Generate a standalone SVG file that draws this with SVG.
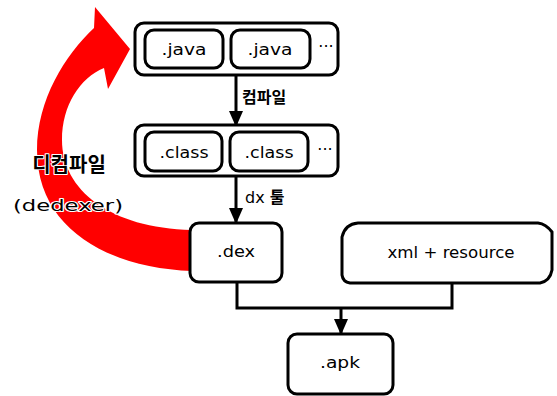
<svg xmlns="http://www.w3.org/2000/svg" width="557" height="396" viewBox="0 0 557 396">
<style>
.box{fill:#fff;stroke:#000;stroke-width:3}
.ln{fill:none;stroke:#000;stroke-width:3}
.t{font-family:"DejaVu Sans","Liberation Sans",sans-serif;font-size:16px;fill:#000}
.k{font-family:"Noto Sans CJK KR",sans-serif;font-weight:bold;fill:#000}
.halo{stroke:#fff;stroke-width:2;paint-order:stroke;stroke-linejoin:round}
</style>
<defs>
<marker id="ah" viewBox="0 0 16 14" refX="15" refY="7" markerWidth="16" markerHeight="14" markerUnits="userSpaceOnUse" orient="auto">
<path d="M0,0 L16,7 L0,14 Z" fill="#000"/>
</marker>
</defs>
<g id="decompile-arrow">
<path d="M 192 271 C 110 268, 37 230, 37 150 C 37 100, 65 55, 94 28 L 95 7 L 130 49 L 108 89 L 104 68 C 80 78, 62 105, 62 140 C 62 190, 110 228, 192 230 Z" fill="#ff0000"/>
<text class="k halo" x="69" y="172" font-size="20" text-anchor="middle">디컴파일</text>
<text class="t halo" x="68" y="211" font-size="22" text-anchor="middle" textLength="110" lengthAdjust="spacingAndGlyphs">(dedexer)</text>
</g>
<g id="connectors">
<line class="ln" x1="236" y1="75" x2="236" y2="126" marker-end="url(#ah)"/>
<line class="ln" x1="236" y1="177" x2="236" y2="223" marker-end="url(#ah)"/>
<polyline class="ln" points="237,282 237,308 452,308 452,282"/>
<line class="ln" x1="341" y1="308" x2="341" y2="334" marker-end="url(#ah)"/>
<text class="k" x="242" y="103" font-size="16">컴파일</text>
<text class="t" x="245" y="203" font-size="17">dx <tspan class="k" font-size="16">툴</tspan></text>
</g>
<g id="java-group">
<rect class="box" x="135" y="23" width="203" height="52" rx="9"/>
<g id="java1"><rect class="box" x="145" y="30" width="78" height="38" rx="9"/><text class="t" x="184" y="55" text-anchor="middle" textLength="45" lengthAdjust="spacingAndGlyphs">.java</text></g>
<g id="java2"><rect class="box" x="231" y="30" width="79" height="38" rx="9"/><text class="t" x="270" y="55" text-anchor="middle" textLength="45" lengthAdjust="spacingAndGlyphs">.java</text></g>
<text class="t" x="326" y="52" text-anchor="middle" font-size="14">···</text>
</g>
<g id="class-group">
<rect class="box" x="135" y="125" width="203" height="51" rx="9"/>
<g id="class1"><rect class="box" x="145" y="132" width="77" height="39" rx="9"/><text class="t" x="184" y="158" text-anchor="middle" textLength="49" lengthAdjust="spacingAndGlyphs">.class</text></g>
<g id="class2"><rect class="box" x="230" y="132" width="78" height="39" rx="9"/><text class="t" x="269" y="158" text-anchor="middle" textLength="49" lengthAdjust="spacingAndGlyphs">.class</text></g>
<text class="t" x="325" y="155" text-anchor="middle" font-size="14">···</text>
</g>
<g id="dex">
<rect class="box" x="190" y="223" width="92" height="59" rx="9"/>
<text class="t" x="236" y="257" text-anchor="middle" textLength="38" lengthAdjust="spacingAndGlyphs">.dex</text>
</g>
<g id="xml-resource">
<path class="box" d="M 358 223 L 538 223 Q 546 224 552 232 L 552 270 Q 550 281 540 283 L 350 283 Q 343 282 342 275 L 342 237 Q 345 224 358 223 Z"/>
<text class="t" x="451" y="258" text-anchor="middle" textLength="127" lengthAdjust="spacingAndGlyphs">xml + resource</text>
</g>
<g id="apk">
<rect class="box" x="288" y="334" width="105" height="60" rx="9"/>
<text class="t" x="340" y="368" text-anchor="middle" textLength="40" lengthAdjust="spacingAndGlyphs">.apk</text>
</g>
</svg>
